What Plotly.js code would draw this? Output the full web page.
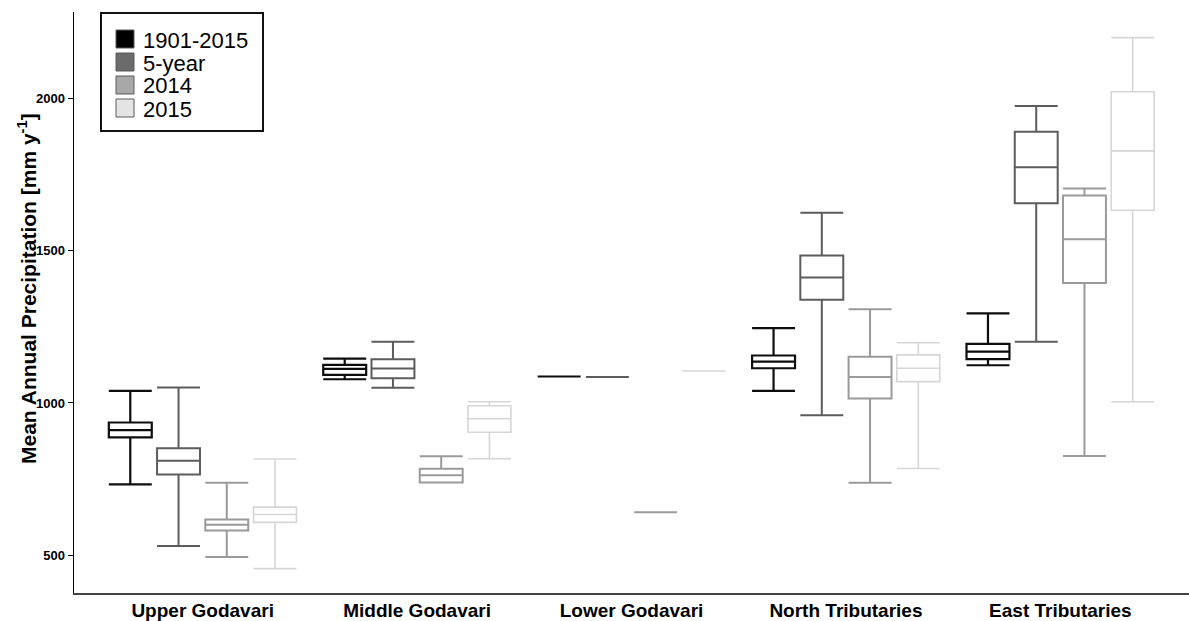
<!DOCTYPE html>
<html>
<head>
<meta charset="utf-8">
<script src="https://cdn.plot.ly/plotly-3.0.1.min.js"></script>
<style>html,body{margin:0;padding:0;background:#fff;}#chart{width:1189px;height:621px;}</style>
</head>
<body>
<div id="chart"></div>
<script>
var categories = ["Upper Godavari","Middle Godavari","Lower Godavari","North Tributaries","East Tributaries"];
var seriesNames = ["1901-2015","5-year","2014","2015"];

var low1901 = [733, 1078, 1087, 1040, 1124];
var q1_1901 = [887, 1092, 1087, 1114, 1144];
var med1901 = [911, 1112, 1087, 1136, 1169];
var q3_1901 = [936, 1125, 1087, 1156, 1194];
var up1901  = [1040, 1146, 1087, 1246, 1294];

var low5y = [530, 1050, 1085, 960, 1201];
var q1_5y = [765, 1081, 1085, 1339, 1656];
var med5y = [810, 1113, 1085, 1412, 1774];
var q3_5y = [851, 1144, 1085, 1484, 1891];
var up5y  = [1051, 1201, 1085, 1625, 1975];

var low2014 = [494, 739, 641, 738, 826];
var q1_2014 = [581, 739, 641, 1015, 1394];
var med2014 = [600, 763, 641, 1085, 1538];
var q3_2014 = [617, 784, 641, 1152, 1681];
var up2014  = [738, 825, 641, 1308, 1704];

var low2015 = [456, 817, 1105, 785, 1004];
var q1_2015 = [608, 904, 1105, 1070, 1633];
var med2015 = [634, 948, 1105, 1114, 1828];
var q3_2015 = [658, 991, 1105, 1158, 2022];
var up2015  = [816, 1004, 1105, 1198, 2200];

var yTicks = [500, 1000, 1500, 2000];
var yTitle = "Mean Annual Precipitation [mm y<sup>-1</sup>]";

var lineColors = ["#0d0d0d", "#5c5c5c", "#9a9a9a", "#d6d6d6"];
var lineWidths = [2.2, 2, 2, 1.6];
var legendFills = ["#000000", "#6b6b6b", "#a8a8a8", "#e4e4e4"];

var stats = [
  [low1901, q1_1901, med1901, q3_1901, up1901],
  [low5y, q1_5y, med5y, q3_5y, up5y],
  [low2014, q1_2014, med2014, q3_2014, up2014],
  [low2015, q1_2015, med2015, q3_2015, up2015]
];

var FONT = "Liberation Sans, Arial, sans-serif";
var traces = [];
for (var i = 0; i < 4; i++) {
  traces.push({
    type: "box",
    name: seriesNames[i],
    x: categories,
    lowerfence: stats[i][0],
    q1: stats[i][1],
    median: stats[i][2],
    q3: stats[i][3],
    upperfence: stats[i][4],
    boxpoints: false,
    whiskerwidth: 1,
    fillcolor: "#ffffff",
    line: {color: lineColors[i], width: lineWidths[i]},
    showlegend: false,
    hoverinfo: "skip"
  });
}

// Custom legend (paper coordinates) built from series names and fills
var plotTop = 12, plotBottom = 593, plotLeft = 74, plotW = 1115;
var plotH = plotBottom - plotTop;
function px(xp) { return (xp - plotLeft) / plotW; }
function py(yp) { return (plotBottom - yp) / plotH; }

var shapes = [{
  type: "rect", xref: "paper", yref: "paper",
  x0: px(101), x1: px(263), y0: py(131), y1: py(13),
  line: {color: "#111111", width: 2}, fillcolor: "#ffffff", layer: "above"
}];
var annotations = [{
  text: yTitle,
  xref: "paper", yref: "paper",
  x: px(27), y: py(289),
  xanchor: "center", yanchor: "middle",
  textangle: -90,
  showarrow: false,
  font: {size: 21, family: FONT, color: "#000", weight: "bold"}
}];
var rowCenters = [39, 62, 85, 108];
for (var k = 0; k < 4; k++) {
  var c = rowCenters[k];
  shapes.push({
    type: "rect", xref: "paper", yref: "paper",
    x0: px(116), x1: px(134), y0: py(c + 9), y1: py(c - 9),
    line: {color: "#5a5a5a", width: 1}, fillcolor: legendFills[k], layer: "above"
  });
  annotations.push({
    text: seriesNames[k],
    xref: "paper", yref: "paper",
    x: px(141), y: py(c + 1),
    xanchor: "left", yanchor: "middle",
    showarrow: false,
    font: {size: 22, family: FONT, color: "#000"}
  });
}

var layout = {
  width: 1189,
  height: 621,
  margin: {l: plotLeft, r: 0, t: plotTop, b: 621 - plotBottom},
  paper_bgcolor: "#ffffff",
  plot_bgcolor: "#ffffff",
  font: {family: FONT, color: "#000"},
  boxmode: "group",
  boxgap: 0.1,
  boxgroupgap: 0.11,
  showlegend: false,
  xaxis: {
    type: "category",
    range: [-0.6, 4.6],
    showgrid: false,
    zeroline: false,
    showline: true,
    linecolor: "#444444",
    linewidth: 1.5,
    ticks: "",
    tickfont: {size: 19, family: FONT, color: "#000", weight: "bold"}
  },
  yaxis: {
    range: [376, 2284],
    tickvals: yTicks,
    ticktext: yTicks.map(String),
    showgrid: false,
    zeroline: false,
    showline: true,
    linecolor: "#000000",
    linewidth: 1.5,
    ticks: "outside",
    ticklen: 5,
    tickcolor: "#000",
    tickfont: {size: 13, family: FONT, color: "#000", weight: "bold"}
  },
  shapes: shapes,
  annotations: annotations
};

Plotly.newPlot("chart", traces, layout, {displayModeBar: false, staticPlot: true});
</script>
</body>
</html>
